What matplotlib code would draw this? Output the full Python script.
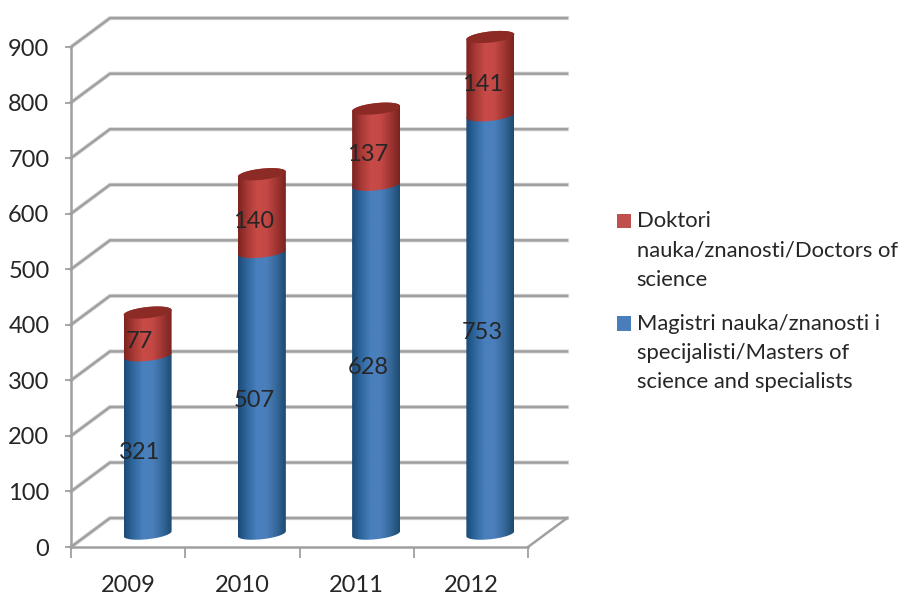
import numpy as np
import matplotlib
matplotlib.use("Agg")
import matplotlib.pyplot as plt
from matplotlib.colors import LinearSegmentedColormap
from matplotlib.patches import PathPatch, Polygon, Rectangle
from matplotlib.path import Path
from matplotlib.legend_handler import HandlerPatch

years = ["2009", "2010", "2011", "2012"]
masters = [321, 507, 628, 753]
doctors = [77, 140, 137, 141]
y_ticks = [0, 100, 200, 300, 400, 500, 600, 700, 800, 900]
label_doctors = "Doktori\nnauka/znanosti/Doctors of\nscience"
label_masters = "Magistri nauka/znanosti i\nspecijalisti/Masters of\nscience and specialists"

plt.rcParams["font.family"] = ["Lato", "DejaVu Sans"]
TXT = "#262626"
GRID = "#a0a0a0"
FS = 17.0
FS_LEG = 15.8

W, H = 901, 594
fig = plt.figure(figsize=(W / 100, H / 100), dpi=100, facecolor="white")
ax = fig.add_axes([71 / W, (H - 547) / H, 457 / W, 500 / H])
ax.set_xlim(0, 4)
ax.set_ylim(0, 900)

DX, DY = 0.341, 52.0   # depth of the 3-D box (category units, value units)
BAR_A = 0.21           # cylinder half width
ELL_B, ELL_T = 10.0, 4.5  # ellipse half height and tilt

blue = LinearSegmentedColormap.from_list("b", ["#1b4a78", "#30699f", "#4a80bf", "#4a7fbc", "#36699a", "#1c4a72"])
red = LinearSegmentedColormap.from_list("r", ["#7d2320", "#a83a36", "#c84b47", "#c44845", "#a03632", "#7a2320"])
grad = np.linspace(0, 1, 128).reshape(1, -1)

# walls and floor grid
for v in y_ticks:
    xs = [0, DX, 4 + DX]
    ys = [v, v + DY, v + DY]
    ax.plot(xs, ys, color="#dcdcdc", lw=3.0, clip_on=False, zorder=1, solid_joinstyle="miter")
    ax.plot(xs, ys, color=GRID, lw=1.8, clip_on=False, zorder=1.1, solid_joinstyle="miter")
ax.plot([4, 4 + DX], [0, DY], color=GRID, lw=1.8, clip_on=False, zorder=1.1)
ax.plot([0, 4], [0, 0], color=GRID, lw=1.8, clip_on=False, zorder=1.1)
ax.plot([0, 0], [0, 900], color=GRID, lw=1.8, clip_on=False, zorder=1.1)


def arc(cx, cy, t0, t1, n=40):
    t = np.linspace(t0, t1, n)
    return np.column_stack([cx + BAR_A * np.cos(t), cy + ELL_T * np.cos(t) + ELL_B * np.sin(t)])


def body(cx, y0, y1, cmap, z):
    low = arc(cx, y0, np.pi, 2 * np.pi)
    up = arc(cx, y1, 0, np.pi)
    pts = np.vstack([low, up, low[:1]])
    clip = PathPatch(Path(pts), transform=ax.transData, fc="none", ec="none", clip_on=False)
    ax.add_patch(clip)
    im = ax.imshow(grad, cmap=cmap, extent=[cx - BAR_A, cx + BAR_A, y0 - 30, y1 + 30],
                   aspect="auto", zorder=z, interpolation="bilinear")
    im.set_clip_box(fig.bbox)
    im.set_clip_path(clip)


for i, (m, d) in enumerate(zip(masters, doctors)):
    cx = i + 0.5 + DX / 2
    base = DY / 2 - 2
    body(cx, base, base + m, blue, 2 + i * 0.1)
    body(cx, base + m, base + m + d, red, 2.05 + i * 0.1)
    cap = arc(cx, base + m + d, 0, 2 * np.pi, 80)
    ax.add_patch(Polygon(cap, closed=True, fc="#8c2a25", ec="none", zorder=2.08 + i * 0.1, clip_on=False))
    for val, mid in ((m, base + m / 2), (d, base + m + d / 2)):
        ax.annotate(str(val), (cx, mid), xytext=(-8, -8), textcoords="offset pixels",
                    ha="center", va="center", fontsize=FS, color=TXT, zorder=5)

ax.set_xlim(0, 4)
ax.set_ylim(0, 900)
for s in ax.spines.values():
    s.set_visible(False)
ax.patch.set_visible(False)

ax.set_yticks(y_ticks)
ax.set_yticklabels([str(v) for v in y_ticks])
ax.tick_params(axis="y", length=4.5, width=1.3, color=GRID, labelcolor=TXT, labelsize=FS, pad=11)
ax.set_xticks(range(5))
ax.set_xticklabels([""] * 5)
ax.tick_params(axis="x", which="major", length=8, width=1.3, color=GRID)
ax.set_xticks([i + 0.5 for i in range(4)], minor=True)
ax.set_xticklabels(years, minor=True)
ax.tick_params(axis="x", which="minor", length=0, labelcolor=TXT, labelsize=FS, pad=20)


def square(legend, orig_handle, xdescent, ydescent, width, height, fontsize):
    return Rectangle((-xdescent, -ydescent + 21.5), width, height)


h1 = Rectangle((0, 0), 1, 1, fc="#c0504d", ec="none")
h2 = Rectangle((0, 0), 1, 1, fc="#4a7ebb", ec="none")
leg = fig.legend([h1, h2], [label_doctors, label_masters],
                 loc="upper left", bbox_to_anchor=(617 / W, 1 - 211 / H), frameon=False,
                 fontsize=FS_LEG, handlelength=0.63, handleheight=0.63, handletextpad=0.27,
                 labelspacing=1.1, borderpad=0, borderaxespad=0,
                 handler_map={Rectangle: HandlerPatch(patch_func=square)})
for t in leg.get_texts():
    t.set_color(TXT)
    t.set_linespacing(1.58)

fig.savefig("out.png", dpi=100, facecolor="white")
